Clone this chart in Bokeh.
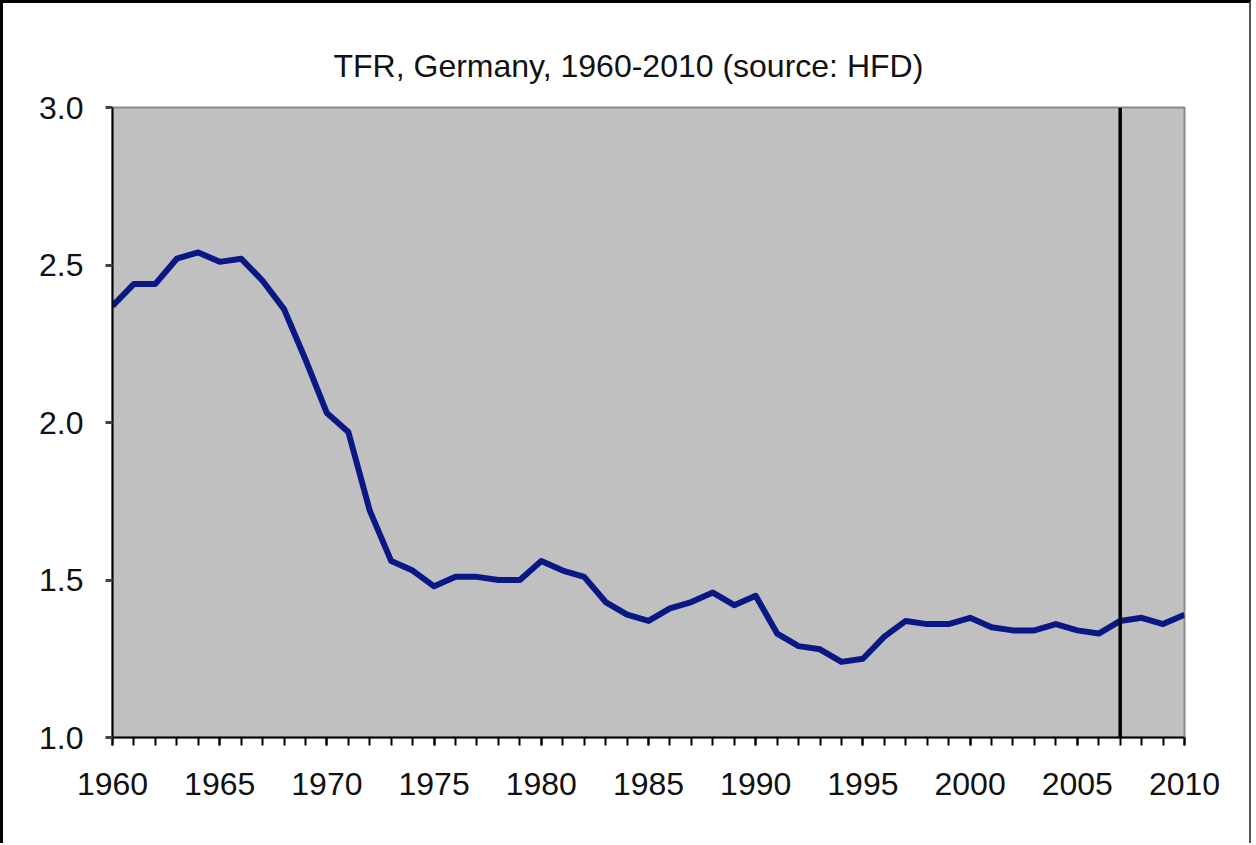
from bokeh.plotting import figure
from bokeh.models import Range1d, FixedTicker, Span, NumeralTickFormatter
from bokeh.embed import file_html
from bokeh.resources import INLINE

years = list(range(1960, 2011))
tfr = [2.37, 2.44, 2.44, 2.52, 2.54, 2.51, 2.52, 2.45, 2.36, 2.20,
       2.03, 1.97, 1.72, 1.56, 1.53, 1.48, 1.51, 1.51, 1.50, 1.50,
       1.56, 1.53, 1.51, 1.43, 1.39, 1.37, 1.41, 1.43, 1.46, 1.42,
       1.45, 1.33, 1.29, 1.28, 1.24, 1.25, 1.32, 1.37, 1.36, 1.36,
       1.38, 1.35, 1.34, 1.34, 1.36, 1.34, 1.33, 1.37, 1.38, 1.36,
       1.39]
x_ticks = list(range(1960, 2011, 5))
x_minor = list(range(1960, 2011))
y_ticks = [1.0, 1.5, 2.0, 2.5, 3.0]
marker_year = 2007
title_text = "TFR, Germany, 1960-2010 (source: HFD)"

FONT = "Liberation Sans"
W, H = 1249, 840

p = figure(width=W, height=H, output_backend="svg", toolbar_location=None,
           x_range=Range1d(1960, 2010), y_range=Range1d(1.0, 3.0),
           min_border_left=109, min_border_right=65, min_border_top=104,
           min_border_bottom=106, frame_width=1072, frame_height=630,
           title=title_text)

p.styles = {"border-top": "3px solid black", "border-left": "3px solid black",
            "border-right": "2px solid #555555", "border-bottom": "none"}

p.title.text_font = FONT
p.title.text_font_size = "32px"
p.title.text_font_style = "normal"
p.title.text_color = "#111111"
p.title.align = "left"
p.title.offset = 221
p.title.standoff = 47

p.background_fill_color = "#C0C0C0"
p.border_fill_color = "white"
p.outline_line_color = "#8a8a8a"
p.outline_line_width = 2
p.grid.visible = False

# x axis
xa = p.xaxis[0]
xa.ticker = FixedTicker(ticks=x_ticks, minor_ticks=x_minor)
xa.axis_line_color = "black"
xa.axis_line_width = 2
xa.major_tick_line_color = "black"
xa.major_tick_line_width = 2
xa.major_tick_in = 0
xa.major_tick_out = 8
xa.minor_tick_line_color = "black"
xa.minor_tick_line_width = 2
xa.minor_tick_in = 0
xa.minor_tick_out = 8
xa.major_label_text_font = FONT
xa.major_label_text_font_size = "32px"
xa.major_label_text_color = "#111111"
xa.major_label_standoff = 27

# y axis
ya = p.yaxis[0]
ya.ticker = FixedTicker(ticks=y_ticks)
ya.formatter = NumeralTickFormatter(format="0.0")
ya.axis_line_color = "black"
ya.axis_line_width = 2
ya.major_tick_line_color = "#444444"
ya.major_tick_line_width = 3
ya.major_tick_in = 0
ya.major_tick_out = 7
ya.minor_tick_line_color = None
ya.major_label_text_font = FONT
ya.major_label_text_font_size = "32px"
ya.major_label_text_color = "#111111"
ya.major_label_standoff = 22

p.line(years, tfr, line_color="#0a1886", line_width=6, line_join="round")

p.add_layout(Span(location=marker_year, dimension="height",
                  line_color="black", line_width=3.5))

open("out.html", "w").write(file_html(p, INLINE))
